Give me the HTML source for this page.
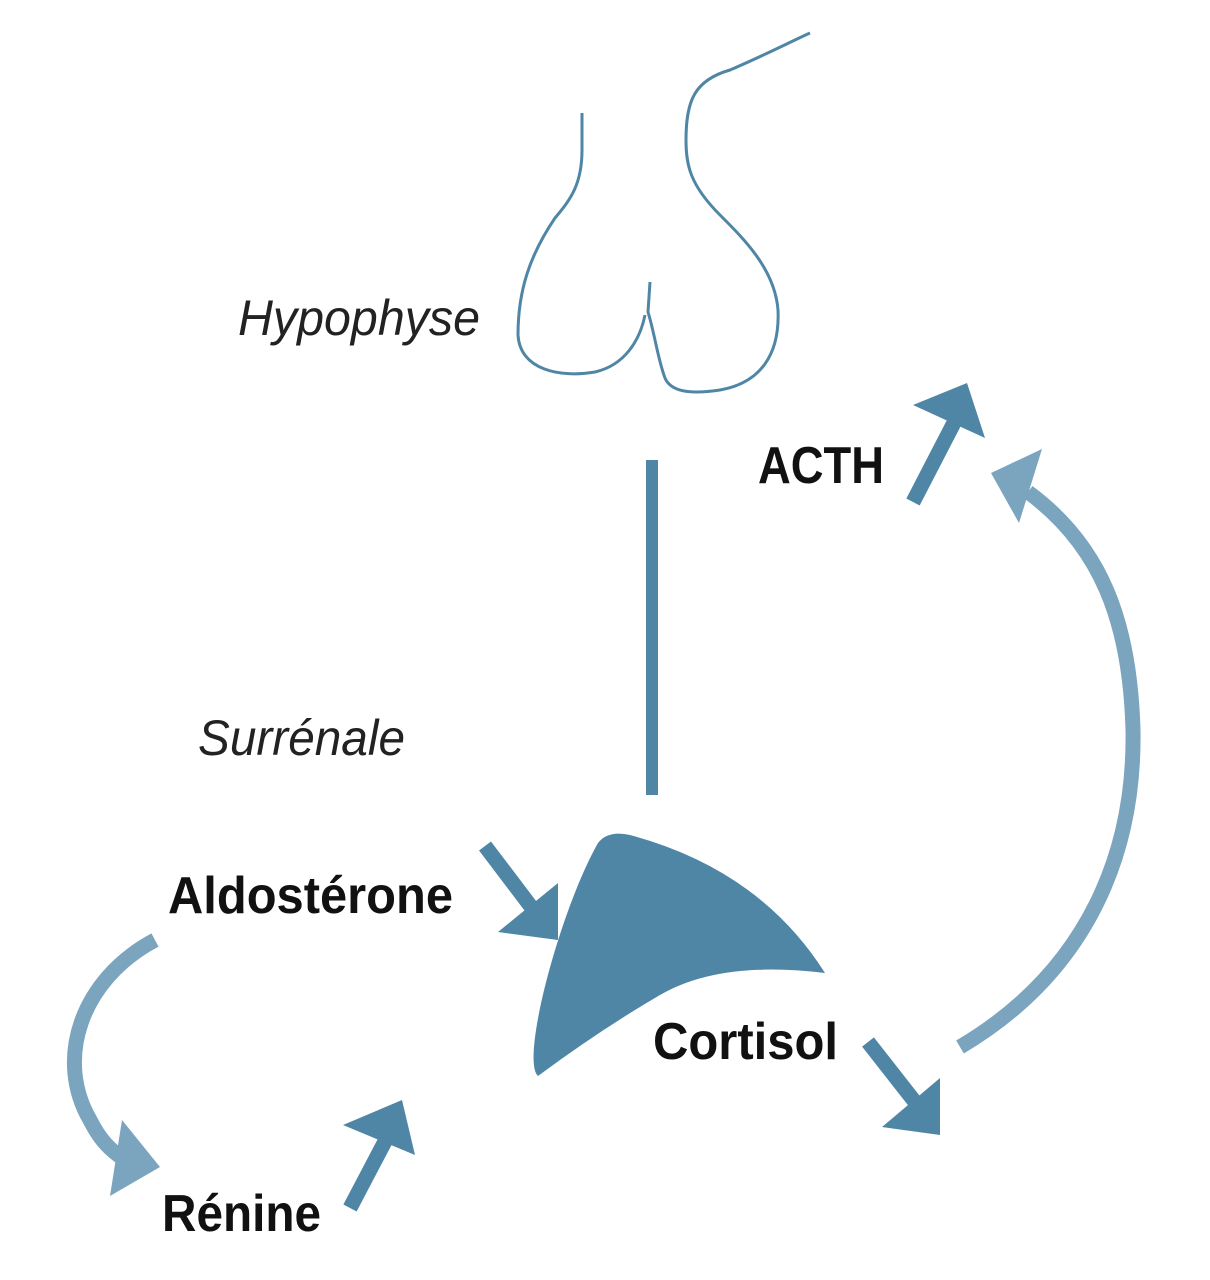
<!DOCTYPE html>
<html><head><meta charset="utf-8"><style>html,body{margin:0;padding:0;background:#fff}svg{display:block}</style></head>
<body>
<svg width="1210" height="1280" viewBox="0 0 1210 1280" xmlns="http://www.w3.org/2000/svg">
<g fill="none" stroke="#4f86a6" stroke-width="3">
<path d="M582,113 L582,150 C582,185 570,200 555,218 C530,255 518,290 518,335 C520,370 560,378 595,372 C625,365 640,340 645,315"/>
<path d="M650,282 L648,312 C655,335 658,360 665,378 C672,395 700,393 720,390 C760,383 780,355 778,310 C775,270 745,240 720,215 C690,185 686,165 686,140 C686,100 695,80 730,70 C765,55 790,42 810,33"/>
</g>
<line x1="652" y1="460" x2="652" y2="795" stroke="#4f86a6" stroke-width="12"/>
<path d="M538,1076 C520,1060 560,910 598,843 Q608,830 630,835 Q760,870 825,973 Q720,960 660,995 Q600,1030 538,1076 Z" fill="#4f86a6"/>
<g fill="#4f86a6">
<line x1="913" y1="502" x2="958" y2="415" stroke="#4f86a6" stroke-width="15"/>
<polygon points="913,405 967,383 985,438"/>
<line x1="485" y1="846" x2="532" y2="908" stroke="#4f86a6" stroke-width="15"/>
<polygon points="498,932 558,940 558,883"/>
<line x1="350" y1="1208" x2="392" y2="1128" stroke="#4f86a6" stroke-width="15"/>
<polygon points="343,1125 402,1100 415,1155"/>
<line x1="868" y1="1042" x2="915" y2="1102" stroke="#4f86a6" stroke-width="15"/>
<polygon points="882,1127 940,1135 940,1078"/>
</g>
<g stroke="#7ba4bf" stroke-width="15" fill="none">
<path d="M960,1047 C1090,970 1135,850 1133,730 C1130,620 1100,545 1028,492"/>
<path d="M155,940 C80,980 55,1060 90,1120 C100,1140 110,1150 125,1160"/>
</g>
<g fill="#7ba4bf">
<polygon points="991,473 1042,449 1019,523"/>
<polygon points="122,1120 160,1167 110,1196"/>
</g>
<g font-family="Liberation Sans, sans-serif">
<text x="238" y="335" font-size="50" font-style="italic" font-weight="300" fill="#222" textLength="242" lengthAdjust="spacingAndGlyphs">Hypophyse</text>
<text x="198" y="755" font-size="50" font-style="italic" fill="#222" textLength="207" lengthAdjust="spacingAndGlyphs">Surrénale</text>
<text x="758" y="483" font-size="52" font-weight="bold" fill="#111" textLength="126" lengthAdjust="spacingAndGlyphs">ACTH</text>
<text x="168" y="913" font-size="52" font-weight="bold" fill="#111" textLength="285" lengthAdjust="spacingAndGlyphs">Aldostérone</text>
<text x="653" y="1059" font-size="52" font-weight="bold" fill="#111" textLength="185" lengthAdjust="spacingAndGlyphs">Cortisol</text>
<text x="162" y="1231" font-size="52" font-weight="bold" fill="#111" textLength="159" lengthAdjust="spacingAndGlyphs">Rénine</text>
</g>
</svg>
</body></html>
